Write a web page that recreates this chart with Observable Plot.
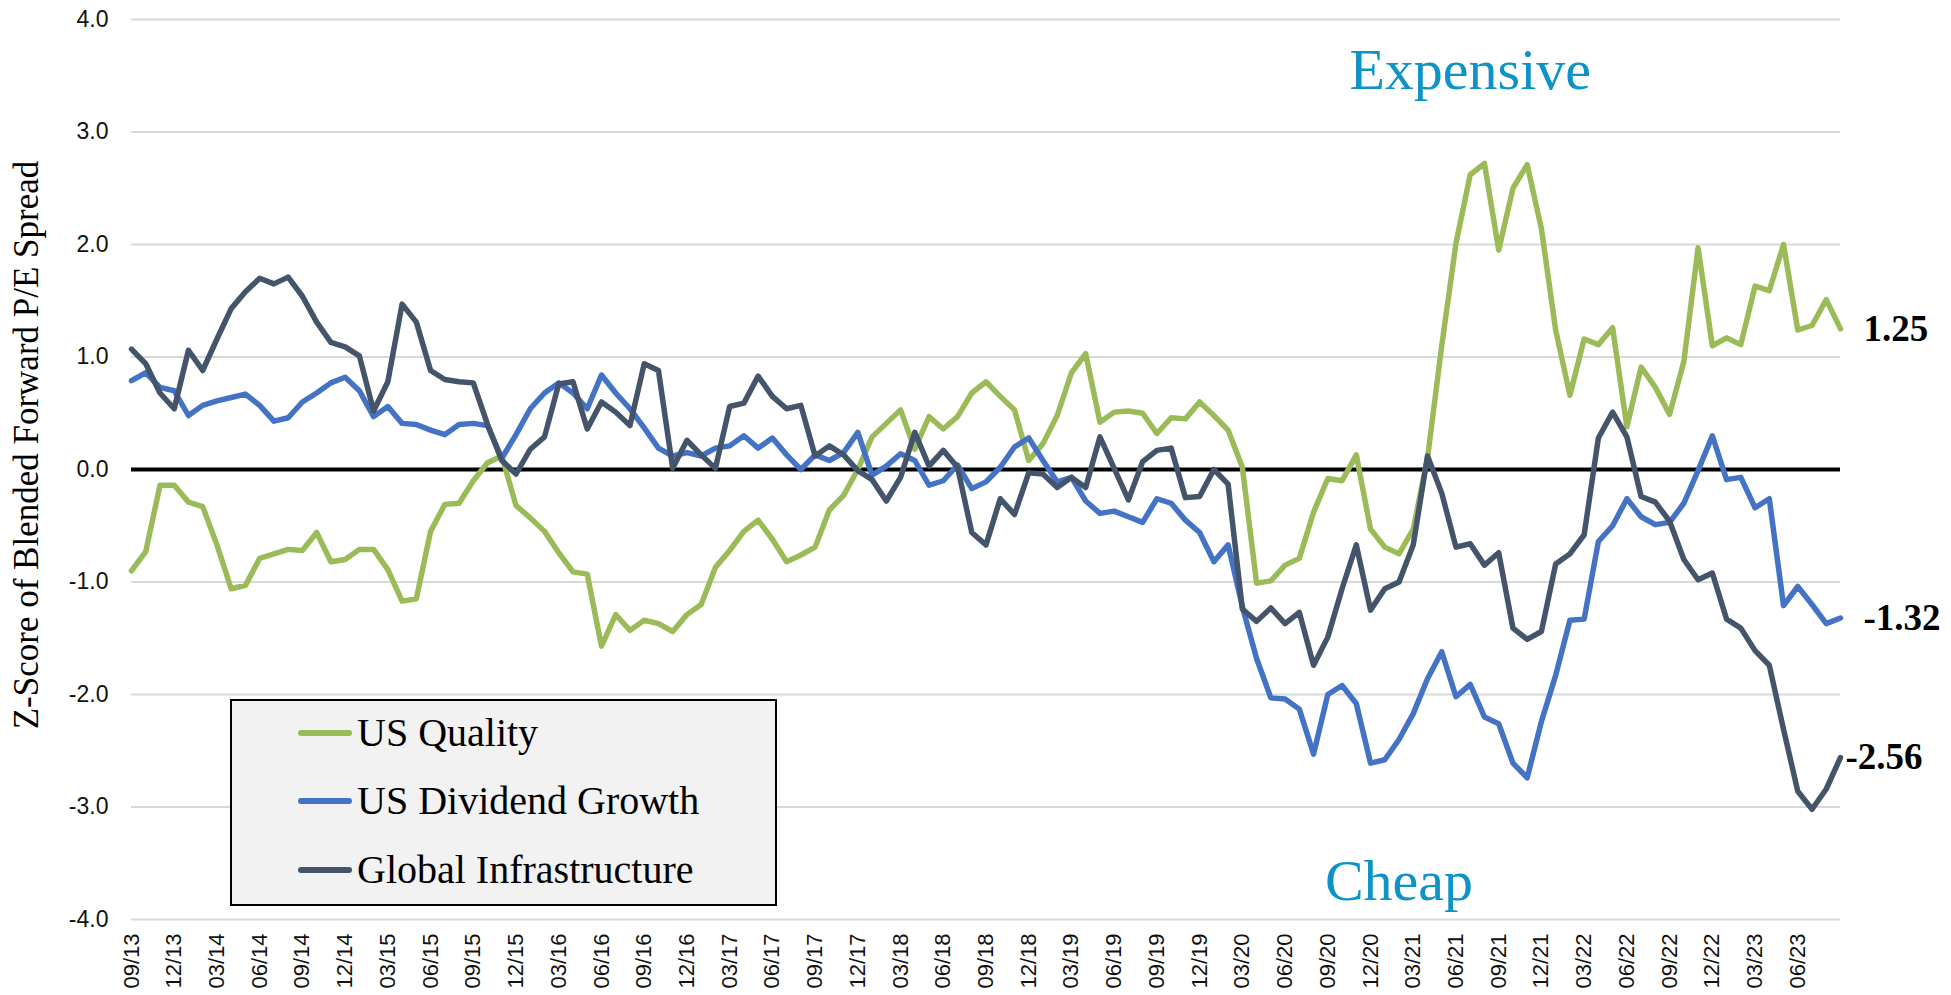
<!DOCTYPE html>
<html>
<head>
<meta charset="utf-8">
<script src="https://cdn.jsdelivr.net/npm/d3@7"></script>
<script src="https://cdn.jsdelivr.net/npm/@observablehq/plot@0.6"></script>
<style>
  html, body { margin: 0; padding: 0; background: #fff; }
  #wrap { position: relative; width: 1951px; height: 995px; overflow: hidden; }
  #legend { position: absolute; left: 230px; top: 699px; width: 547px; height: 207px;
            box-sizing: border-box; background: #F2F2F2; border: 2.5px solid #000; }
  .row { position: absolute; left: 66px; height: 50px; display: flex; align-items: center; }
  .sw { display: inline-block; width: 54px; height: 6px; border-radius: 3px; }
  .lt { margin-left: 5px; font: 40px "Liberation Serif", "Times New Roman", serif; color: #000; line-height: 50px; white-space: nowrap; }
  #ytitle { position: absolute; left: 27px; top: 445px; transform: translate(-50%, -50%) rotate(-90deg);
            font: 35px "Liberation Serif", "Times New Roman", serif; color: #000; white-space: nowrap; }
</style>
</head>
<body>
<div id="wrap"><div id="chart"></div><div id="legend"></div><div id="ytitle"></div></div>
<script>
// ---- data ----
const months = d3.utcMonth.range(new Date(Date.UTC(2013, 8, 1)), new Date(Date.UTC(2023, 9, 1))).map(d3.utcFormat("%m/%y"));
const tickLabels = ["09/13","12/13","03/14","06/14","09/14","12/14","03/15","06/15","09/15","12/15",
  "03/16","06/16","09/16","12/16","03/17","06/17","09/17","12/17","03/18","06/18","09/18","12/18",
  "03/19","06/19","09/19","12/19","03/20","06/20","09/20","12/20","03/21","06/21","09/21","12/21",
  "03/22","06/22","09/22","12/22","03/23","06/23"];
const yTicks = [-4, -3, -2, -1, 0, 1, 2, 3, 4];
const seriesNames = ["US Quality", "US Dividend Growth", "Global Infrastructure"];
const seriesColors = ["#9BBB59", "#4472C4", "#44546A"];

const usQuality = [-0.90,-0.73,-0.14,-0.14,-0.29,-0.33,-0.67,-1.06,-1.03,-0.79,
  -0.75,-0.71,-0.72,-0.56,-0.82,-0.80,-0.71,-0.71,-0.89,-1.17,
  -1.15,-0.55,-0.31,-0.30,-0.10,0.06,0.12,-0.32,-0.43,-0.55,
  -0.74,-0.91,-0.93,-1.57,-1.29,-1.43,-1.34,-1.37,-1.44,-1.29,
  -1.20,-0.87,-0.72,-0.55,-0.45,-0.62,-0.82,-0.76,-0.69,-0.36,
  -0.23,0.00,0.29,0.41,0.53,0.18,0.47,0.36,0.47,0.68,
  0.78,0.65,0.53,0.08,0.23,0.48,0.86,1.03,0.42,0.51,
  0.52,0.50,0.32,0.46,0.45,0.60,0.48,0.35,0.02,-1.01,
  -0.99,-0.85,-0.79,-0.38,-0.08,-0.10,0.13,-0.53,-0.69,-0.75,
  -0.53,0.10,1.10,2.01,2.62,2.72,1.95,2.50,2.71,2.14,
  1.24,0.66,1.16,1.11,1.26,0.38,0.91,0.73,0.49,0.96,
  1.97,1.10,1.17,1.11,1.63,1.59,2.00,1.24,1.28,1.51,
  1.25];
const usDividendGrowth = [0.79,0.86,0.73,0.70,0.48,0.57,0.61,0.64,0.67,0.57,
  0.43,0.46,0.60,0.68,0.77,0.82,0.70,0.47,0.56,0.41,
  0.40,0.35,0.31,0.40,0.41,0.39,0.10,0.31,0.54,0.68,
  0.77,0.68,0.54,0.84,0.68,0.54,0.37,0.19,0.12,0.15,
  0.12,0.19,0.21,0.30,0.19,0.28,0.13,0.00,0.13,0.08,
  0.15,0.33,-0.05,0.03,0.14,0.08,-0.14,-0.10,0.04,-0.17,
  -0.11,0.02,0.20,0.28,0.08,-0.11,-0.07,-0.28,-0.39,-0.37,
  -0.42,-0.47,-0.26,-0.30,-0.45,-0.56,-0.82,-0.67,-1.22,-1.68,
  -2.03,-2.04,-2.13,-2.53,-2.00,-1.92,-2.08,-2.61,-2.58,-2.40,
  -2.17,-1.86,-1.62,-2.02,-1.91,-2.20,-2.26,-2.61,-2.74,-2.24,
  -1.83,-1.34,-1.33,-0.64,-0.50,-0.26,-0.42,-0.49,-0.47,-0.30,
  -0.01,0.30,-0.09,-0.07,-0.34,-0.26,-1.21,-1.04,-1.20,-1.37,
  -1.32];
const globalInfrastructure = [1.07,0.94,0.68,0.54,1.06,0.88,1.16,1.43,1.58,1.70,
  1.65,1.71,1.54,1.31,1.13,1.09,1.01,0.52,0.78,1.47,
  1.31,0.88,0.80,0.78,0.77,0.40,0.08,-0.04,0.18,0.29,
  0.76,0.78,0.36,0.60,0.51,0.39,0.94,0.88,0.01,0.26,
  0.13,0.01,0.56,0.59,0.83,0.65,0.54,0.57,0.12,0.21,
  0.13,-0.01,-0.09,-0.28,-0.07,0.33,0.03,0.17,0.02,-0.56,
  -0.67,-0.26,-0.40,-0.03,-0.04,-0.16,-0.07,-0.16,0.29,0.01,
  -0.27,0.07,0.17,0.19,-0.25,-0.24,0.00,-0.13,-1.24,-1.35,
  -1.23,-1.37,-1.27,-1.74,-1.49,-1.06,-0.67,-1.25,-1.06,-1.00,
  -0.67,0.12,-0.21,-0.69,-0.66,-0.85,-0.74,-1.41,-1.51,-1.44,
  -0.84,-0.75,-0.58,0.28,0.51,0.29,-0.24,-0.29,-0.46,-0.80,
  -0.98,-0.92,-1.33,-1.41,-1.61,-1.74,-2.31,-2.86,-3.02,-2.84,
  -2.56];

const annotations = [
  {month: "07/21", value: 3.55, text: "Expensive"},
  {month: "02/21", value: -3.66, text: "Cheap"}
];
const yTitle = "Z-Score of Blended Forward P/E Spread";

// ---- build table ----
const seriesValues = [usQuality, usDividendGrowth, globalInfrastructure];
const rows = [];
seriesNames.forEach((name, k) => {
  seriesValues[k].forEach((v, i) => rows.push({month: months[i], value: v, series: name}));
});
const last = months[months.length - 1];
const endRows = seriesNames.map((name, k) => {
  const v = seriesValues[k][seriesValues[k].length - 1];
  return {month: last, value: v, series: name, label: v.toFixed(2)};
});

const serif = "Liberation Serif, Times New Roman, serif";

const chart = Plot.plot({
  width: 1951,
  height: 995,
  marginLeft: 131,
  marginRight: 111,
  marginTop: 19,
  marginBottom: 76,
  style: {background: "transparent", overflow: "visible"},
  x: {type: "point", domain: months, padding: 0, round: false},
  y: {domain: [-4, 4]},
  color: {domain: seriesNames, range: seriesColors},
  marks: [
    Plot.gridY(yTicks.filter(d => d !== 0), {stroke: "#D9D9D9", strokeOpacity: 1, strokeWidth: 2}),
    Plot.axisY(yTicks, {tickSize: 0, tickPadding: 23, tickFormat: d => d.toFixed(1), fontSize: 23,
      fontFamily: "Liberation Sans Narrow, Liberation Sans, Arial, sans-serif", fill: "#111", label: null}),
    Plot.axisX(tickLabels, {tickSize: 0, tickPadding: 14, tickRotate: -90, fontSize: 22,
      fontFamily: "Liberation Sans Narrow, Liberation Sans, Arial, sans-serif", fill: "#111", label: null}),
    Plot.ruleY([0], {stroke: "#000", strokeWidth: 4}),
    Plot.line(rows, {x: "month", y: "value", z: "series", stroke: "series", strokeWidth: 5.5}),
    Plot.text(endRows.filter(d => d.series !== "Global Infrastructure"), {x: "month", y: "value", text: "label",
      dx: 23, textAnchor: "start", fontWeight: "bold", fontSize: 37, fontFamily: serif, fill: "#000"}),
    Plot.text(endRows.filter(d => d.series === "Global Infrastructure"), {x: "month", y: "value", text: "label",
      dx: 5, textAnchor: "start", fontWeight: "bold", fontSize: 37, fontFamily: serif, fill: "#000"}),
    Plot.text(annotations, {x: "month", y: "value", text: "text", fontSize: 58, fontFamily: serif, fill: "#0E93C6"})
  ]
});
document.getElementById("chart").appendChild(chart);
document.getElementById("ytitle").textContent = yTitle;

// ---- legend ----
const legend = document.getElementById("legend");
const centers = [32, 100, 169];
seriesNames.forEach((name, k) => {
  const row = document.createElement("div");
  row.className = "row";
  row.style.top = (centers[k] - 25) + "px";
  const sw = document.createElement("span");
  sw.className = "sw";
  sw.style.background = seriesColors[k];
  const lt = document.createElement("span");
  lt.className = "lt";
  lt.textContent = name;
  row.appendChild(sw);
  row.appendChild(lt);
  legend.appendChild(row);
});
</script>
</body>
</html>
